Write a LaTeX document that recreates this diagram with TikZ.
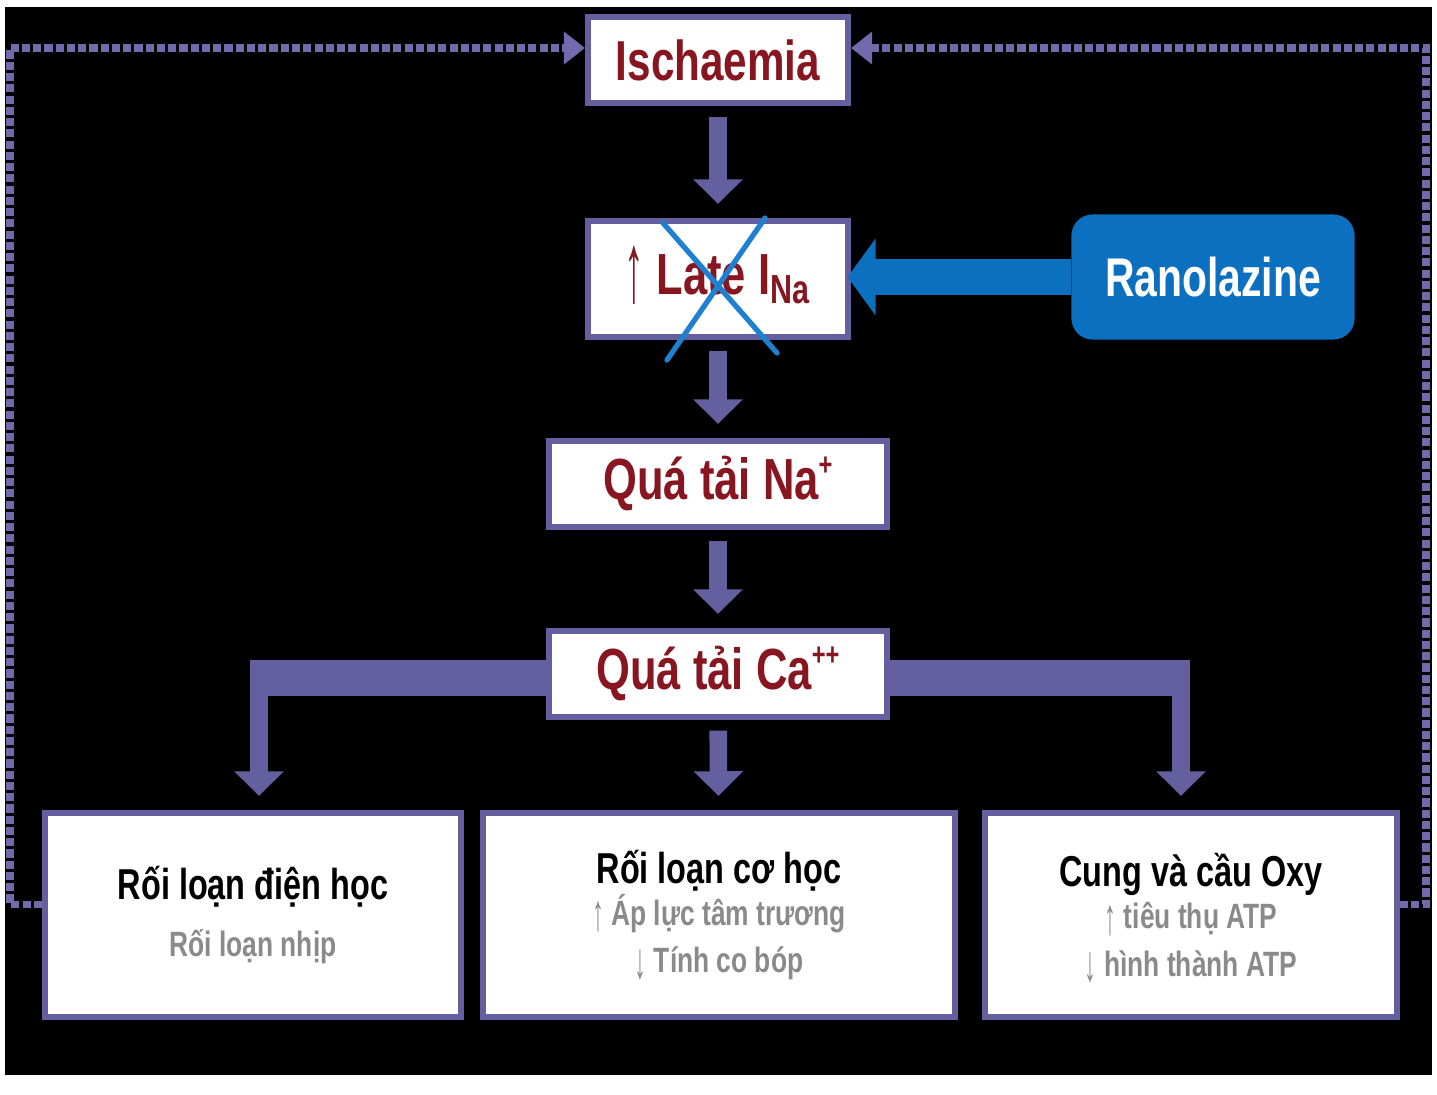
\documentclass[tikz,border=0pt]{standalone}
\usepackage{fontspec}
\setmainfont{Liberation Sans}[FakeStretch=0.75]
\usepackage{tikz}
\usetikzlibrary{arrows.meta}

\definecolor{boxline}{RGB}{100,96,160}
\definecolor{dotline}{RGB}{112,108,172}
\definecolor{titlered}{RGB}{135,22,32}
\definecolor{drugblue}{RGB}{12,112,192}
\definecolor{crossblue}{RGB}{30,128,208}
\definecolor{subgray}{RGB}{138,138,138}

\begin{document}
\begin{tikzpicture}[x=0.01cm, y=-0.01cm,
    main/.style = {draw=boxline, line width=1.7pt, fill=white, text=titlered, inner sep=0pt, font=\bfseries\fontsize{16.5}{18}\selectfont},
    result/.style = {draw=boxline, line width=1.7pt, fill=white, align=center, inner sep=0pt, minimum height=2.04cm, font=\bfseries},
    drug/.style = {fill=drugblue, rounded corners=6pt, text=white, minimum width=2.83cm, minimum height=1.25cm, font=\bfseries\fontsize{15.5}{17}\selectfont},
    flow/.style = {draw=boxline, line width=5pt, -{Triangle[width=13.7pt, length=7pt]}, shorten <=3pt, shorten >=4pt},
    bar/.style = {draw=boxline, line width=10.5pt},
    feedback/.style = {draw=dotline, line width=2.2pt, dash pattern=on 2.3pt off 0.9pt, -{Triangle[width=9pt, length=6pt]}},
    drugarrow/.style = {draw=drugblue, line width=10pt, -{Triangle[width=21.6pt, length=8pt]}, shorten >=-1pt},
    cross/.style = {draw=crossblue, line width=1.5pt, line cap=round}]
    \useasboundingbox (0,0) rectangle (1437,1095);
    \fill[black] (5,7) rectangle (1432,1075);

    % main chain
    \node[main, minimum width=2.6cm, minimum height=0.86cm] (isch) at (718,60) {\fontsize{16}{18}\selectfont Ischaemia};
    \node[main, minimum width=2.6cm, minimum height=1.16cm] (late) at (718,279) {{\mdseries\smash{\raisebox{-2pt}{\scalebox{0.9}[1.7]{↑}}}} Late I\textsubscript{Na}};
    \node[main, minimum width=3.37cm, minimum height=0.86cm] (na)  at (718,484) {Quá tải Na\raisebox{0.8ex}[0pt][0pt]{\fontsize{9}{9}\selectfont +}};
    \node[main, minimum width=3.37cm, minimum height=0.86cm] (ca)  at (718,674) {Quá tải Ca\raisebox{0.8ex}[0pt][0pt]{\fontsize{9}{9}\selectfont ++}};
    \node[drug] (ran) at (1213,277) {Ranolazine};

    % consequences
    \node[result, minimum width=4.16cm] (lb) at (253,915) {{\fontsize{12.3}{14}\selectfont Rối loạn điện học}\\[4pt]
        {\color{subgray}\fontsize{10}{12}\selectfont Rối loạn nhịp}};
    \node[result, minimum width=4.72cm] (mb) at (719,915) {{\fontsize{12.3}{14}\selectfont Rối loạn cơ học}\\[0pt]
        {\color{subgray}\fontsize{10}{12}\selectfont{\mdseries\smash{\raisebox{-1.5pt}{\scalebox{0.9}[1.45]{↑}}}} Áp lực tâm trương}\\[1.5pt]
        {\color{subgray}\fontsize{10}{12}\selectfont{\mdseries\smash{\raisebox{-1.5pt}{\scalebox{0.9}[1.45]{↓}}}} Tính co bóp}};
    \node[result, minimum width=4.12cm] (rb) at (1191,915) {{\fontsize{12.3}{14}\selectfont Cung và cầu Oxy}\\[0pt]
        {\color{subgray}\fontsize{10}{12}\selectfont{\mdseries\smash{\raisebox{-1.5pt}{\scalebox{0.9}[1.45]{↑}}}} tiêu thụ ATP}\\[1.5pt]
        {\color{subgray}\fontsize{10}{12}\selectfont{\mdseries\smash{\raisebox{-1.5pt}{\scalebox{0.9}[1.45]{↓}}}} hình thành ATP}};

    \coordinate (cl) at (250,678);
    \coordinate (cr) at (1190,678);
    \coordinate (dl) at (259,678);
    \coordinate (dr) at (1181,678);
    \coordinate (fl) at (10,48);
    \coordinate (fr) at (1426,48);

    \draw   [flow]  (isch)  --  (late);
    \draw   [flow]  (late)  --  (na);
    \draw   [flow]  (na)    --  (ca);
    \draw   [flow]  (ca)    --  (mb);
    \draw   [bar]   (ca.west |- cl)  --  (cl);
    \draw   [bar]   (ca.east |- cr)  --  (cr);
    \draw   [flow, shorten <=0pt]  (dl)  --  (lb.north -| dl);
    \draw   [flow, shorten <=0pt]  (dr)  --  (rb.north -| dr);
    \draw   [drugarrow] (ran.west)  --  (ran.west -| late.east);
    \draw   [feedback]  ([yshift=3pt]lb.west)   -|  (fl)    --  (isch.west |- fl);
    \draw   [feedback]  ([yshift=3pt]rb.east)   -|  (fr)    --  (isch.east |- fr);

    % blocked by the drug
    \draw   [cross] (663,223)   --  (777,353);
    \draw   [cross] (765,218)   --  (667,360);
\end{tikzpicture}
\end{document}
